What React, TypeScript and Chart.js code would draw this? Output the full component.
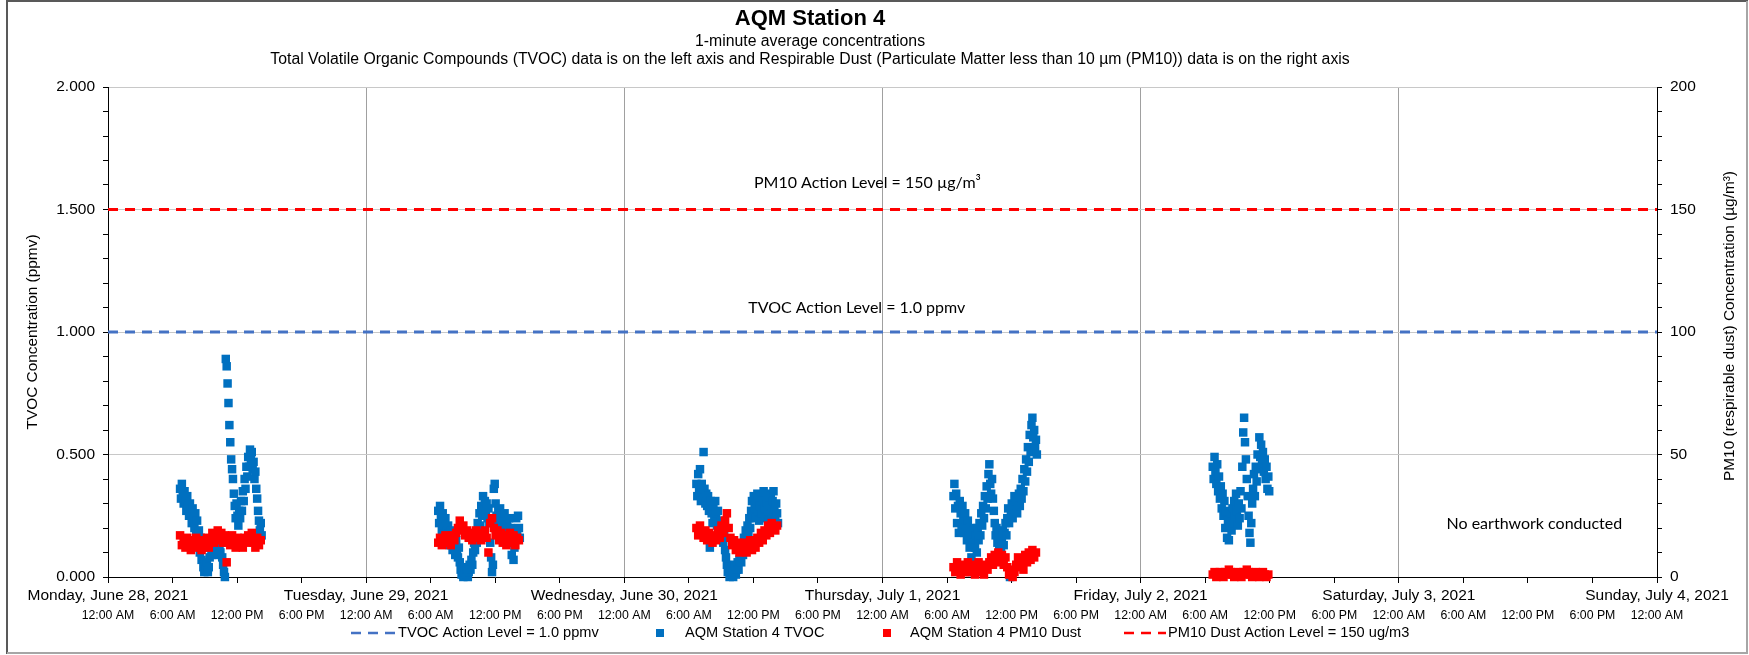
import { useEffect, useRef } from 'react';
import { Chart, registerables } from 'chart.js';

Chart.register(...registerables);

const FONT = "'Liberation Sans', Arial, sans-serif";
const NOTE_FONT = "Lato, 'Open Sans', sans-serif";

const chartTitle = 'AQM Station 4';
const subtitleLine1 = '1-minute average concentrations';
const subtitleLine2 =
  'Total Volatile Organic Compounds (TVOC) data is on the left axis and Respirable Dust (Particulate Matter less than 10 µm (PM10)) data is on the right axis';
const leftAxisTitle = 'TVOC Concentration (ppmv)';
const rightAxisTitle = 'PM10 (respirable dust) Concentration (µg/m³)';

const dayLabels = [
  'Monday, June 28, 2021',
  'Tuesday, June 29, 2021',
  'Wednesday, June 30, 2021',
  'Thursday, July 1, 2021',
  'Friday, July 2, 2021',
  'Saturday, July 3, 2021',
  'Sunday, July 4, 2021',
];
const timeLabels = ['12:00 AM', '6:00 AM', '12:00 PM', '6:00 PM'];
const xAxisTicks = [0, 6, 12, 18, 24, 30, 36, 42, 48, 54, 60, 66, 72, 78, 84, 90, 96, 102, 108, 114, 120, 126, 132, 138, 144];
const leftAxisTicks = [0, 0.1, 0.2, 0.3, 0.4, 0.5, 0.6, 0.7, 0.8, 0.9, 1.0, 1.1, 1.2, 1.3, 1.4, 1.5, 1.6, 1.7, 1.8, 1.9, 2.0];
const rightAxisTicks = [0, 10, 20, 30, 40, 50, 60, 70, 80, 90, 100, 110, 120, 130, 140, 150, 160, 170, 180, 190, 200];

const legendLabels = [
  'TVOC Action Level = 1.0 ppmv',
  'AQM Station 4 TVOC',
  'AQM Station 4 PM10 Dust',
  'PM10 Dust Action Level = 150 ug/m3',
];
const noteTvoc = 'TVOC Action Level = 1.0 ppmv';
const notePm10 = 'PM10 Action Level = 150 µg/m³';
const noteNoWork = 'No earthwork conducted';

const tvocActionLevel = 1.0;
const pm10ActionLevel = 150;

// sampling: day index (0 = Mon Jun 28), first reading hour of day, step in minutes
const sampleDays = [0, 1, 2, 3, 4];
const tvocStartHours = [6.7, 6.7, 6.7, 6.6, 6.7];
const pm10StartHours = [6.7, 6.7, 6.7, 6.6, 6.7];
const tvocStepMinutes = 5;
const pm10StepMinutes = 10;

// TVOC (ppmv)
const tvocJun28 = [
  0.36, 0.32, 0.38, 0.33, 0.30, 0.35, 0.31, 0.27, 0.33, 0.29, 0.25, 0.30, 0.26, 0.22, 0.28, 0.24,
  0.20, 0.26, 0.17, 0.23, 0.14, 0.19, 0.10, 0.16, 0.07, 0.12, 0.04,
  0.02, 0.05, 0.03, 0.06, 0.02, 0.04, 0.08,
  0.12, 0.09, 0.14, 0.11, 0.16, 0.13, 0.10, 0.15, 0.12, 0.09, 0.13, 0.10, 0.14, 0.08, 0.05,
  0.02, 0.00,
  0.89, 0.86, 0.79, 0.71, 0.62, 0.55, 0.48, 0.44,
  0.40, 0.34, 0.29, 0.24, 0.30, 0.25, 0.21, 0.27,
  0.24, 0.31, 0.27, 0.35, 0.31, 0.40, 0.36, 0.45, 0.41, 0.49, 0.45, 0.52,
  0.48, 0.51, 0.44, 0.47, 0.40, 0.43,
  0.36, 0.32, 0.27, 0.23, 0.19, 0.22, 0.17,
];
const tvocJun29 = [
  0.27, 0.22, 0.29, 0.24, 0.19, 0.26, 0.21, 0.17, 0.24, 0.19, 0.15, 0.21, 0.17, 0.13,
  0.19, 0.15, 0.11, 0.17, 0.13, 0.09, 0.15, 0.11, 0.08, 0.12, 0.06,
  0.03, 0.01, 0.04, 0.00, 0.02, 0.04, 0.01, 0.03, 0.00, 0.02, 0.05, 0.03, 0.07, 0.05,
  0.10, 0.14, 0.11, 0.18, 0.14, 0.22, 0.18, 0.26, 0.21, 0.29, 0.25, 0.33,
  0.28, 0.31, 0.26, 0.30, 0.24, 0.28, 0.22,
  0.14, 0.08, 0.02, 0.05, 0.36, 0.38,
  0.30, 0.25, 0.21, 0.27, 0.22, 0.28, 0.24, 0.19, 0.25, 0.20, 0.26, 0.21, 0.17,
  0.23, 0.18, 0.24, 0.14, 0.20, 0.09, 0.15, 0.07, 0.12, 0.18, 0.24, 0.19, 0.25, 0.20, 0.16,
];
const tvocJun30 = [
  0.38, 0.33, 0.42, 0.36, 0.44, 0.31, 0.38, 0.34, 0.51, 0.36, 0.30, 0.34,
  0.29, 0.33, 0.27, 0.12, 0.31, 0.26, 0.22, 0.29, 0.24, 0.31, 0.26, 0.21, 0.27, 0.22, 0.19,
  0.23, 0.17, 0.20, 0.14, 0.17, 0.11, 0.08,
  0.05, 0.02, 0.04, 0.00, 0.03, 0.01, 0.04, 0.00, 0.02, 0.05, 0.01, 0.03, 0.06, 0.03, 0.07,
  0.10, 0.06, 0.13, 0.09, 0.16, 0.12, 0.19, 0.15, 0.21, 0.17, 0.24, 0.20,
  0.27, 0.31, 0.25, 0.33, 0.28, 0.24, 0.30, 0.34, 0.27, 0.23, 0.29, 0.33, 0.26, 0.31, 0.35, 0.28,
  0.24, 0.30, 0.34, 0.27, 0.23, 0.29, 0.33, 0.26, 0.31, 0.35, 0.28, 0.24, 0.30, 0.26, 0.22,
];
const tvocJul01 = [
  0.33, 0.38, 0.28, 0.34, 0.22, 0.29, 0.18, 0.31,
  0.26, 0.21, 0.29, 0.24, 0.18, 0.26, 0.20, 0.15, 0.23, 0.17, 0.12, 0.20, 0.08, 0.02,
  0.14, 0.19, 0.12, 0.17, 0.10, 0.20, 0.15, 0.22, 0.17, 0.26, 0.21,
  0.29, 0.24, 0.33, 0.28, 0.37, 0.32, 0.42, 0.46, 0.38, 0.34, 0.40, 0.32, 0.27,
  0.22, 0.17, 0.20, 0.14, 0.18, 0.12, 0.16, 0.11, 0.15, 0.19, 0.13, 0.18, 0.22, 0.17,
  0.24, 0.28, 0.22, 0.00, 0.26, 0.30, 0.24, 0.29, 0.33, 0.27, 0.31, 0.26, 0.30, 0.34, 0.29,
  0.36, 0.32, 0.40, 0.35, 0.44, 0.39, 0.48, 0.43, 0.53, 0.47, 0.58, 0.51, 0.62, 0.65, 0.57, 0.60, 0.53, 0.56, 0.50,
];
const tvocJul02 = [
  0.45, 0.40, 0.49, 0.43, 0.38, 0.46, 0.35, 0.41, 0.32, 0.37, 0.28,
  0.34, 0.25, 0.31, 0.20, 0.27, 0.16, 0.23, 0.15, 0.21, 0.26, 0.19, 0.28,
  0.22, 0.31, 0.25, 0.34, 0.27, 0.21, 0.30, 0.24, 0.35, 0.28, 0.45,
  0.59, 0.65, 0.55, 0.48, 0.40,
  0.33, 0.25, 0.18, 0.14, 0.22, 0.30,
  0.36, 0.42, 0.33, 0.45, 0.39, 0.50, 0.44, 0.57, 0.49, 0.54, 0.46, 0.51, 0.43, 0.48, 0.40, 0.45, 0.36, 0.41, 0.35,
];

// PM10 (µg/m³)
const pm10Jun28 = [
  17, 13, 15, 12, 16, 14, 11, 15, 13, 16, 12, 14, 11, 15, 13, 16, 12,
  15, 18, 14, 17, 19, 15, 18, 14, 17,
  6,
  16, 13, 17, 14, 12, 16, 13, 15, 12, 16, 14, 17, 15, 18, 14, 12, 16, 13, 15,
];
const pm10Jun29 = [
  14, 16, 13, 15, 17, 14, 16, 13, 17,
  15, 18, 20, 23, 19, 21, 17, 19, 16,
  18, 15, 17, 19, 16, 18, 15, 17, 19, 16,
  10,
  22, 24, 20,
  17, 19, 15, 18, 14, 17, 13, 16, 18, 14, 17, 13, 16, 15,
];
const pm10Jun30 = [
  20, 17, 21, 18, 16, 19, 15, 18, 16, 14,
  17, 15, 19, 16, 21, 18, 23, 26, 20,
  16, 13, 15, 11, 14, 10, 13, 11, 14, 10, 12, 15, 11, 14, 12,
  16, 14, 18, 15, 19, 17, 21, 18, 22, 20, 19, 21,
];
const pm10Jul01 = [
  4, 2, 6, 3, 1, 5, 2, 4, 6, 2, 3, 5, 1, 4, 6, 2, 4, 1, 5, 3, 6,
  8, 5, 9, 6, 10, 7, 9, 5, 8,
  4, 1, 3, 0, 2, 5,
  8, 4, 7, 3, 9, 6, 10, 7, 11, 8, 10,
];
const pm10Jul02 = [
  1, 2, 0, 1, 2, 1, 0, 2, 1, 3, 2, 1, 0, 1, 2, 1, 0, 2, 1, 3, 2, 1, 0, 1, 2, 1, 0, 1, 2, 1, 0, 1,
];

const tvocByDay = [tvocJun28, tvocJun29, tvocJun30, tvocJul01, tvocJul02];
const pm10ByDay = [pm10Jun28, pm10Jun29, pm10Jun30, pm10Jul01, pm10Jul02];

const TVOC_BLUE = '#0070C0';
const PM_RED = '#FF0000';
const ACTION_BLUE = '#4472C4';

function toPoints(day: number, startHour: number, stepMin: number, values: number[]) {
  return values.map((v, i) => ({ x: day * 24 + startHour + (i * stepMin) / 60, y: v }));
}

const isMajorLeft = (v: number) => Math.abs(v * 2 - Math.round(v * 2)) < 1e-6;
const isMajorRight = (v: number) => Math.abs(v / 50 - Math.round(v / 50)) < 1e-6;

const decorPlugin = {
  id: 'decor',
  afterDraw(chart: any) {
    const ctx: CanvasRenderingContext2D = chart.ctx;
    const xs = chart.scales.x;
    const ys = chart.scales.y;
    const area = chart.chartArea;
    ctx.save();

    // outer frame
    ctx.lineWidth = 2;
    ctx.strokeStyle = '#595959';
    ctx.beginPath();
    ctx.moveTo(7, 654);
    ctx.lineTo(7, 1);
    ctx.lineTo(1748, 1);
    ctx.stroke();
    ctx.strokeStyle = '#a6a6a6';
    ctx.beginPath();
    ctx.moveTo(1747, 1);
    ctx.lineTo(1747, 653);
    ctx.lineTo(7, 653);
    ctx.stroke();

    // titles
    ctx.fillStyle = '#000';
    ctx.textAlign = 'center';
    ctx.textBaseline = 'middle';
    ctx.font = `bold 22px ${FONT}`;
    ctx.fillText(chartTitle, 810, 19);
    ctx.font = `15.8px ${FONT}`;
    ctx.fillText(subtitleLine1, 810, 42);
    ctx.fillText(subtitleLine2, 810, 60);

    // right axis title, reading bottom-to-top
    ctx.save();
    ctx.translate(1730, (area.top + area.bottom) / 2 - 6);
    ctx.rotate(-Math.PI / 2);
    ctx.font = `15.4px ${FONT}`;
    ctx.fillText(rightAxisTitle, 0, 0);
    ctx.restore();

    // notes on the plot
    ctx.font = `16px ${NOTE_FONT}`;
    ctx.fillText(notePm10, xs.getPixelForValue(70.6), ys.getPixelForValue(1.61));
    ctx.fillText(noteTvoc, xs.getPixelForValue(69.6), ys.getPixelForValue(1.098));
    ctx.fillText(noteNoWork, xs.getPixelForValue(132.6), ys.getPixelForValue(0.216));

    // legend
    const ly = 633;
    ctx.font = `14.6px ${FONT}`;
    ctx.textAlign = 'left';
    ctx.lineWidth = 2.5;
    ctx.setLineDash([10, 7]);
    ctx.strokeStyle = ACTION_BLUE;
    ctx.beginPath();
    ctx.moveTo(351, ly);
    ctx.lineTo(396, ly);
    ctx.stroke();
    ctx.strokeStyle = PM_RED;
    ctx.beginPath();
    ctx.moveTo(1124, ly);
    ctx.lineTo(1166, ly);
    ctx.stroke();
    ctx.setLineDash([]);
    ctx.fillStyle = TVOC_BLUE;
    ctx.fillRect(656, ly - 4, 8, 8);
    ctx.fillStyle = PM_RED;
    ctx.fillRect(883, ly - 4, 8, 8);
    ctx.fillStyle = '#000';
    ctx.fillText(legendLabels[0], 398, ly);
    ctx.fillText(legendLabels[1], 685, ly);
    ctx.fillText(legendLabels[2], 910, ly);
    ctx.fillText(legendLabels[3], 1168, ly);

    ctx.restore();
  },
};

export default function App() {
  const ref = useRef<HTMLCanvasElement>(null);

  useEffect(() => {
    const canvas = ref.current;
    if (!canvas) return;

    const tvocPoints = sampleDays.flatMap((d, k) => toPoints(d, tvocStartHours[k], tvocStepMinutes, tvocByDay[k]));
    const pm10Points = sampleDays.flatMap((d, k) => toPoints(d, pm10StartHours[k], pm10StepMinutes, pm10ByDay[k]));
    const xMax = xAxisTicks[xAxisTicks.length - 1];

    const chart = new Chart(canvas, {
      type: 'scatter',
      data: {
        datasets: [
          {
            label: legendLabels[2],
            data: pm10Points,
            yAxisID: 'y1',
            backgroundColor: PM_RED,
            borderColor: PM_RED,
            pointStyle: 'rect',
            pointRadius: 6,
            pointBorderWidth: 0,
            clip: false,
          } as any,
          {
            label: legendLabels[1],
            data: tvocPoints,
            yAxisID: 'y',
            backgroundColor: TVOC_BLUE,
            borderColor: TVOC_BLUE,
            pointStyle: 'rect',
            pointRadius: 6,
            pointBorderWidth: 0,
            clip: false,
          } as any,
          {
            label: legendLabels[0],
            data: [
              { x: 0, y: tvocActionLevel },
              { x: xMax, y: tvocActionLevel },
            ],
            yAxisID: 'y',
            showLine: true,
            borderColor: ACTION_BLUE,
            borderWidth: 3,
            borderDash: [10, 7],
            pointRadius: 0,
          } as any,
          {
            label: legendLabels[3],
            data: [
              { x: 0, y: pm10ActionLevel },
              { x: xMax, y: pm10ActionLevel },
            ],
            yAxisID: 'y1',
            showLine: true,
            borderColor: PM_RED,
            borderWidth: 3,
            borderDash: [10, 7],
            pointRadius: 0,
          } as any,
        ],
      },
      options: {
        responsive: false,
        animation: false,
        devicePixelRatio: 1,
        layout: { padding: { top: 87, bottom: 28, left: 0, right: 0 } },
        plugins: {
          legend: { display: false },
          title: { display: false },
          tooltip: { enabled: false },
        },
        scales: {
          x: {
            type: 'linear',
            position: 'bottom',
            weight: 0,
            min: 0,
            max: xMax,
            afterBuildTicks: (s: any) => {
              s.ticks = xAxisTicks.map((value) => ({ value }));
            },
            afterFit: (s: any) => {
              s.height = 30;
            },
            ticks: {
              autoSkip: false,
              minRotation: 0,
              maxRotation: 0,
              padding: 3,
              color: '#000',
              font: { family: FONT, size: 15.5 },
              callback: (v: any) => (Number(v) % 24 === 0 ? dayLabels[Number(v) / 24] : ''),
            },
            grid: {
              color: (c: any) => {
                const v = c.tick ? c.tick.value : -1;
                return v % 24 === 0 && v > 0 && v < xMax ? '#a0a0a0' : 'rgba(0,0,0,0)';
              },
              tickColor: '#000',
              tickLength: 6,
              lineWidth: 1,
            },
            border: { color: '#000', width: 1 },
          } as any,
          x2: {
            type: 'linear',
            axis: 'x',
            position: 'bottom',
            weight: 1,
            min: 0,
            max: xMax,
            afterBuildTicks: (s: any) => {
              s.ticks = xAxisTicks.map((value) => ({ value }));
            },
            afterFit: (s: any) => {
              s.height = 20;
            },
            ticks: {
              autoSkip: false,
              minRotation: 0,
              maxRotation: 0,
              padding: 1,
              color: '#000',
              font: { family: FONT, size: 12.3 },
              callback: (v: any) => timeLabels[Math.round(Number(v) / 6) % 4],
            },
            grid: { display: false, drawTicks: false, tickLength: 0 },
            border: { display: false },
          } as any,
          y: {
            type: 'linear',
            position: 'left',
            min: 0,
            max: 2,
            afterBuildTicks: (s: any) => {
              s.ticks = leftAxisTicks.map((value) => ({ value }));
            },
            afterFit: (s: any) => {
              s.width = 108;
            },
            ticks: {
              autoSkip: false,
              padding: 8,
              color: '#000',
              font: { family: FONT, size: 15.5 },
              callback: (v: any) => (isMajorLeft(Number(v)) ? Number(v).toFixed(3) : ''),
            },
            grid: {
              color: (c: any) => {
                const v = c.tick ? c.tick.value : 0;
                return isMajorLeft(v) && v > 0 ? '#c8c8c8' : 'rgba(0,0,0,0)';
              },
              tickColor: '#000',
              tickLength: 5,
              lineWidth: 1,
            },
            border: { color: '#000', width: 1 },
            title: {
              display: true,
              text: leftAxisTitle,
              color: '#000',
              font: { family: FONT, size: 15.4 },
              padding: { top: 24, bottom: 0 },
            },
          } as any,
          y1: {
            type: 'linear',
            position: 'right',
            min: 0,
            max: 200,
            afterBuildTicks: (s: any) => {
              s.ticks = rightAxisTicks.map((value) => ({ value }));
            },
            afterFit: (s: any) => {
              s.width = 92;
            },
            ticks: {
              autoSkip: false,
              padding: 8,
              color: '#000',
              font: { family: FONT, size: 15.5 },
              callback: (v: any) => (isMajorRight(Number(v)) ? String(v) : ''),
            },
            grid: {
              drawOnChartArea: false,
              color: '#000',
              tickColor: '#000',
              tickLength: 5,
            },
            border: { color: '#000', width: 1 },
            title: { display: false },
          } as any,
        },
      },
      plugins: [decorPlugin],
    });

    return () => chart.destroy();
  }, []);

  return (
    <div style={{ position: 'absolute', left: 0, top: 0, width: 1749, height: 655, background: '#fff' }}>
      <canvas ref={ref} width={1749} height={655} style={{ display: 'block', width: 1749, height: 655 }} />
    </div>
  );
}
